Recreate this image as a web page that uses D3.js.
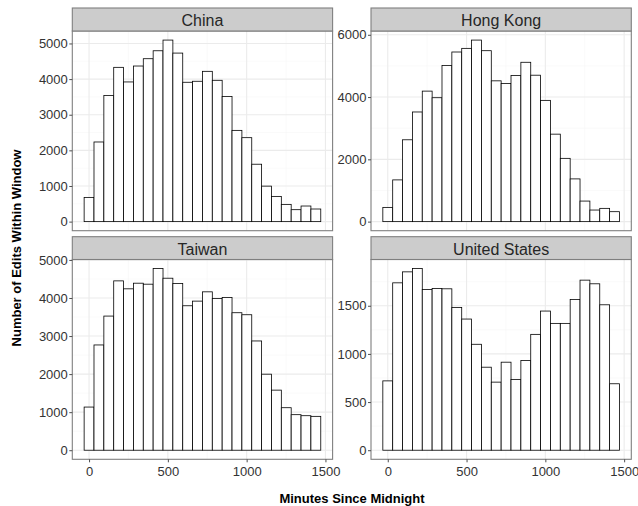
<!DOCTYPE html>
<html><head><meta charset="utf-8">
<script src="https://cdn.jsdelivr.net/npm/d3@7/dist/d3.min.js"></script>
<style>body{margin:0;background:#fff}svg{display:block}text{font-family:"Liberation Sans",Arial,sans-serif}</style>
</head><body>
<svg id="c" width="638" height="506"></svg>
<script>
const panels = ["China", "Hong Kong", "Taiwan", "United States"];
const china = [680,2235,3538,4330,3920,4367,4572,4795,5095,4730,3911,3939,4218,3966,3510,2561,2356,1611,996,708,484,335,438,354];
const hongKong = [457,1340,2628,3521,4191,3979,5011,5447,5564,5830,5489,4521,4436,4691,5117,4702,3894,2809,2032,1372,660,372,426,319];
const taiwan = [1134,2766,3525,4450,4241,4389,4363,4773,4520,4380,3796,3918,4162,3988,4014,3613,3560,2871,1998,1579,1117,934,907,890];
const unitedStates = [720,1738,1852,1886,1669,1679,1676,1483,1362,1100,862,707,914,734,931,1203,1445,1317,1317,1566,1766,1728,1510,690];
const seriesValues = [china, hongKong, taiwan, unitedStates];
const xTicks = [0, 500, 1000, 1500];
const yTicks = [[0,1000,2000,3000,4000,5000],[0,2000,4000,6000],[0,1000,2000,3000,4000,5000],[0,500,1000,1500]];
const dataMin = 0, dataMax = 1439, nBins = 24;

const svg = d3.select("#c");
const binW = (dataMax - dataMin) / (nBins - 1);
const lo = dataMin - binW/2, hi = dataMax + binW/2;
const ex = (hi - lo) * 0.05;

const cols = [[72.3, 332.6], [371, 631.3]];
const rows = [{s:8, p:31, b:230.7}, {s:236.7, p:259.5, b:459.3}];

panels.forEach((name, i) => {
  const c = cols[i % 2], r = rows[Math.floor(i / 2)];
  const vals = seriesValues[i];
  const vmax = d3.max(vals);
  const x = d3.scaleLinear().domain([lo - ex, hi + ex]).range(c);
  const y = d3.scaleLinear().domain([-0.05 * vmax, 1.05 * vmax]).range([r.b, r.p]);
  const g = svg.append("g");
  g.append("rect").attr("x", c[0]).attr("y", r.p).attr("width", c[1]-c[0]).attr("height", r.b-r.p).attr("fill", "#fff");
  const yt = yTicks[i];
  const step = yt[1] - yt[0];
  const yMinor = [];
  for (let v = step/2; v < 1.05*vmax; v += step) yMinor.push(v);
  const xMinor = [250, 750, 1250];
  g.selectAll(null).data(yMinor).enter().append("line")
    .attr("x1", c[0]).attr("x2", c[1]).attr("y1", d => y(d)).attr("y2", d => y(d))
    .attr("stroke", "#f7f7f7").attr("stroke-width", 0.6);
  g.selectAll(null).data(xMinor).enter().append("line")
    .attr("y1", r.p).attr("y2", r.b).attr("x1", d => x(d)).attr("x2", d => x(d))
    .attr("stroke", "#f7f7f7").attr("stroke-width", 0.6);
  g.selectAll(null).data(yt).enter().append("line")
    .attr("x1", c[0]).attr("x2", c[1]).attr("y1", d => y(d)).attr("y2", d => y(d))
    .attr("stroke", "#ebebeb").attr("stroke-width", 1.1);
  g.selectAll(null).data(xTicks).enter().append("line")
    .attr("y1", r.p).attr("y2", r.b).attr("x1", d => x(d)).attr("x2", d => x(d))
    .attr("stroke", "#ebebeb").attr("stroke-width", 1.1);
  g.selectAll(null).data(vals).enter().append("rect")
    .attr("x", (d, k) => x(lo + k*binW))
    .attr("width", (d, k) => x(lo + (k+1)*binW) - x(lo + k*binW))
    .attr("y", d => y(d))
    .attr("height", d => y(0) - y(d))
    .attr("fill", "#fff").attr("stroke", "#000").attr("stroke-width", 0.8);
  g.append("rect").attr("x", c[0]).attr("y", r.p).attr("width", c[1]-c[0]).attr("height", r.b-r.p)
    .attr("fill", "none").attr("stroke", "#7f7f7f").attr("stroke-width", 1.1);
  g.append("rect").attr("x", c[0]).attr("y", r.s).attr("width", c[1]-c[0]).attr("height", r.p-r.s)
    .attr("fill", "#cccccc").attr("stroke", "#7f7f7f").attr("stroke-width", 1.1);
  g.append("text").attr("x", (c[0]+c[1])/2).attr("y", r.s + 18)
    .attr("text-anchor", "middle").attr("font-size", 16).attr("fill", "#262626").text(name);
  const ya = d3.axisLeft(y).tickValues(yt).tickSize(3).tickPadding(1.5).tickFormat(d3.format("d"));
  const yg = g.append("g").attr("transform", `translate(${c[0]},0)`).call(ya);
  yg.select(".domain").remove();
  yg.selectAll(".tick line").attr("stroke", "#4d4d4d");
  yg.selectAll(".tick text").attr("font-size", 13).attr("fill", "#333").style("font-family", '"Liberation Sans",Arial,sans-serif');
  if (i >= 2) {
    const xa = d3.axisBottom(x).tickValues(xTicks).tickSize(3).tickPadding(4).tickFormat(d3.format("d"));
    const xg = g.append("g").attr("transform", `translate(0,${r.b})`).call(xa);
    xg.select(".domain").remove();
    xg.selectAll(".tick line").attr("stroke", "#4d4d4d");
    xg.selectAll(".tick text").attr("font-size", 13).attr("fill", "#333").style("font-family", '"Liberation Sans",Arial,sans-serif');
  }
});

svg.append("text").attr("x", 352).attr("y", 503).attr("text-anchor", "middle")
  .attr("font-size", 13).attr("font-weight", "bold").text("Minutes Since Midnight");
svg.append("text").attr("transform", "translate(21,248) rotate(-90)").attr("text-anchor", "middle")
  .attr("font-size", 13).attr("font-weight", "bold").text("Number of Edits Within Window");
</script>
</body></html>
